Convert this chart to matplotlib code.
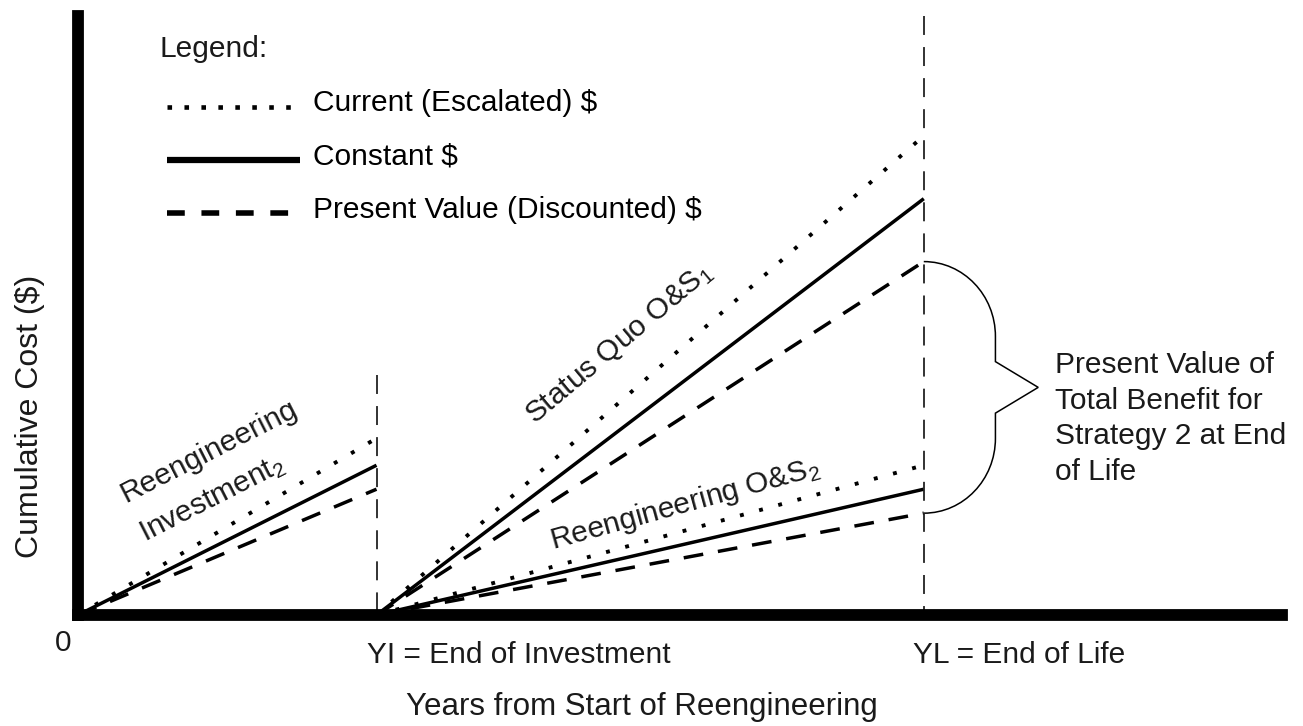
import numpy as np
import matplotlib.pyplot as plt
from matplotlib.lines import Line2D
from matplotlib.path import Path
from matplotlib.patches import PathPatch
from matplotlib.legend_handler import HandlerLine2D

plt.rcParams['font.family'] = ['Liberation Sans', 'DejaVu Sans']
plt.rcParams['mathtext.default'] = 'regular'

# x: years from start, y: cumulative cost (arbitrary units, it's a concept diagram)
YI = 3.0   # end of investment
YL = 8.5   # end of life
x_max = 12.1
y_max = 100.0

# order of every series: current (escalated), constant, present value (discounted)
dollar_bases = ['Current (Escalated) $', 'Constant $', 'Present Value (Discounted) $']
invest_end = [29.5, 25.0, 21.0]       # reengineering investment at YI
status_quo_end = [80.0, 69.5, 59.0]   # status quo O&S at YL
reeng_os_end = [25.0, 21.0, 17.0]     # reengineering O&S at YL
yi_marker_top = 40.0

W, H = 1303, 726


def fx(px):
    return px / W


def fy(py):
    return 1 - py / H


class LowHandler(HandlerLine2D):
    # legend lines sit a bit below the text centre in the original
    def create_artists(self, legend, orig_handle, xdescent, ydescent,
                       width, height, fontsize, trans):
        arts = super().create_artists(legend, orig_handle, xdescent, ydescent,
                                      width, height, fontsize, trans)
        for a in arts:
            a.set_ydata(np.asarray(a.get_ydata()) - 0.2 * fontsize)
        return arts


fig = plt.figure(figsize=(W / 100, H / 100), dpi=100)
ax = fig.add_axes([fx(78), fy(615), (1282 - 78) / W, (615 - 16) / H])
ax.set_xlim(0, x_max)
ax.set_ylim(0, y_max)
for s in ['top', 'right']:
    ax.spines[s].set_visible(False)
for s in ['left', 'bottom']:
    ax.spines[s].set_linewidth(8.5)
    ax.spines[s].set_capstyle('projecting')
ax.set_xticks([])
ax.set_yticks([])

# line styles for the three dollar bases
styles = [dict(ls=(0, (1, 4.1)), lw=2.8),
          dict(ls='-', lw=2.5, solid_capstyle='butt'),
          dict(ls=(0, (5.7, 4.3)), lw=2.5)]

for val, st in zip(invest_end, styles):
    ax.plot([0, YI], [0, val], color='black', **st)
for val, st in zip(status_quo_end, styles):
    ax.plot([YI, YL], [0, val], color='black', **st)
for val, st in zip(reeng_os_end, styles):
    ax.plot([YI, YL], [0, val], color='black', **st)

# vertical markers at end of investment / end of life
marker_style = dict(color='#222222', lw=1.3, ls=(0, (10.5, 6.7)))
ax.plot([YI, YI], [yi_marker_top, 0], **marker_style)
ax.plot([YL, YL], [y_max, 0], **marker_style)

# curly brace between the two present value lines at YL
top, bot = status_quo_end[2], reeng_os_end[2]
mid = (top + bot) / 2
w, tip, neck, c, k = 0.72, 1.15, 4.3, 12.5, 0.552
verts = [(YL, top),
         (YL + k * w, top), (YL + w, top - c + k * c), (YL + w, top - c),
         (YL + w, mid + neck),
         (YL + tip, mid),
         (YL + w, mid - neck),
         (YL + w, bot + c),
         (YL + w, bot + c - k * c), (YL + k * w, bot), (YL, bot)]
codes = [Path.MOVETO, Path.CURVE4, Path.CURVE4, Path.CURVE4,
         Path.LINETO, Path.LINETO, Path.LINETO, Path.LINETO,
         Path.CURVE4, Path.CURVE4, Path.CURVE4]
ax.add_patch(PathPatch(Path(verts, codes), fill=False, lw=1.1,
                       edgecolor='black', clip_on=False))

fs = 21.5
tc = '#1a1a1a'
ax.text(1.32, 27.3, 'Reengineering', rotation=27, rotation_mode='anchor',
        ha='center', va='center', fontsize=fs, color=tc)
ax.text(1.35, 19.3, 'Investment$_2$', rotation=27, rotation_mode='anchor',
        ha='center', va='center', fontsize=fs, color=tc)
ax.text(5.44, 45.3, 'Status Quo O&S$_1$', rotation=40, rotation_mode='anchor',
        ha='center', va='center', fontsize=fs, color=tc)
ax.text(6.1, 18.5, 'Reengineering O&S$_2$', rotation=15.5,
        rotation_mode='anchor', ha='center', va='center', fontsize=fs,
        color=tc)

fig.text(fx(1055), fy(480), 'Present Value of\nTotal Benefit for\nStrategy 2 at End\nof Life',
         ha='left', va='baseline', fontsize=fs, color=tc, linespacing=1.35)

fig.text(fx(63), fy(651), '0', ha='center', va='baseline', fontsize=fs, color=tc)
fig.text(fx(367), fy(663), 'YI = End of Investment', ha='left', va='baseline',
         fontsize=fs, color=tc)
fig.text(fx(913), fy(663), 'YL = End of Life', ha='left', va='baseline',
         fontsize=fs, color=tc)
fig.text(fx(642), fy(715), 'Years from Start of Reengineering', ha='center',
         va='baseline', fontsize=22.5, color=tc)
fig.text(fx(30), fy(416), 'Cumulative Cost ($)', rotation=90, ha='center',
         va='center', fontsize=23, color=tc)

fig.text(fx(160), fy(57), 'Legend:', ha='left', va='baseline', fontsize=fs, color=tc)
handles = [Line2D([], [], color='black', lw=3.3, ls=(0, (1, 2.7))),
           Line2D([], [], color='black', lw=4.5, solid_capstyle='butt'),
           Line2D([], [], color='black', lw=4.0, ls=(0, (3.2, 3.0)))]
ax.legend(handles, dollar_bases, loc='upper left',
          bbox_to_anchor=(fx(167), fy(89)), bbox_transform=fig.transFigure,
          frameon=False, fontsize=fs, handlelength=4.45, handletextpad=0.45,
          labelspacing=0.85, borderpad=0, borderaxespad=0,
          handler_map={Line2D: LowHandler()})

fig.savefig('out.png', dpi=100)
